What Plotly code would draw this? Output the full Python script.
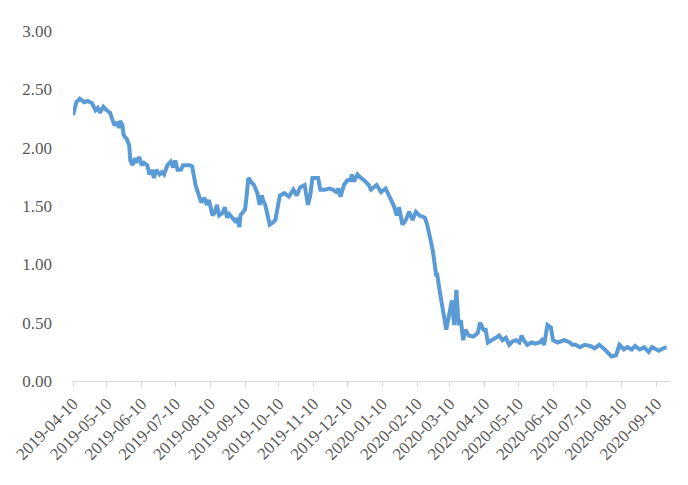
import plotly.graph_objects as go

dates = [
    "2019-04-10", "2019-04-13", "2019-04-16", "2019-04-20", "2019-04-23", "2019-04-27", "2019-04-30",
    "2019-05-02", "2019-05-04", "2019-05-07", "2019-05-10", "2019-05-13", "2019-05-15", "2019-05-17",
    "2019-05-19", "2019-05-21", "2019-05-22", "2019-05-24", "2019-05-25", "2019-05-28", "2019-05-30",
    "2019-05-31", "2019-06-02", "2019-06-04", "2019-06-05", "2019-06-08", "2019-06-10", "2019-06-12",
    "2019-06-15", "2019-06-17", "2019-06-19", "2019-06-21", "2019-06-23", "2019-06-26", "2019-06-28",
    "2019-06-30", "2019-07-03", "2019-07-06", "2019-07-08", "2019-07-10", "2019-07-12", "2019-07-15",
    "2019-07-17", "2019-07-23", "2019-07-25", "2019-07-28", "2019-07-31", "2019-08-02", "2019-08-05",
    "2019-08-07", "2019-08-09", "2019-08-12", "2019-08-14", "2019-08-16", "2019-08-18", "2019-08-21",
    "2019-08-23", "2019-08-25", "2019-08-27", "2019-08-30", "2019-09-02", "2019-09-03", "2019-09-05",
    "2019-09-06", "2019-09-10", "2019-09-11", "2019-09-13", "2019-09-16", "2019-09-18", "2019-09-21",
    "2019-09-23", "2019-09-25", "2019-09-26", "2019-09-28", "2019-10-02", "2019-10-05", "2019-10-07",
    "2019-10-11", "2019-10-15", "2019-10-19", "2019-10-23", "2019-10-26", "2019-10-29", "2019-11-02",
    "2019-11-05", "2019-11-07", "2019-11-09", "2019-11-14", "2019-11-16", "2019-11-20", "2019-11-24",
    "2019-11-27", "2019-11-30", "2019-12-02", "2019-12-04", "2019-12-07", "2019-12-10", "2019-12-13",
    "2019-12-14", "2019-12-16", "2019-12-19", "2019-12-22", "2019-12-25", "2019-12-29", "2019-12-31",
    "2020-01-05", "2020-01-07", "2020-01-09", "2020-01-13", "2020-01-16", "2020-01-20", "2020-01-23",
    "2020-01-25", "2020-01-28", "2020-01-31", "2020-02-03", "2020-02-06", "2020-02-09", "2020-02-12",
    "2020-02-17", "2020-02-19", "2020-02-22", "2020-02-24", "2020-02-27", "2020-02-28", "2020-03-01",
    "2020-03-04", "2020-03-06", "2020-03-07", "2020-03-10", "2020-03-12", "2020-03-14", "2020-03-16",
    "2020-03-18", "2020-03-20", "2020-03-22", "2020-03-24", "2020-03-27", "2020-03-31", "2020-04-04",
    "2020-04-06", "2020-04-09", "2020-04-11", "2020-04-13", "2020-04-17", "2020-04-20", "2020-04-23",
    "2020-04-26", "2020-04-29", "2020-05-02", "2020-05-05", "2020-05-08", "2020-05-11", "2020-05-13",
    "2020-05-15", "2020-05-18", "2020-05-22", "2020-05-25", "2020-05-29", "2020-05-31", "2020-06-02",
    "2020-06-05", "2020-06-08", "2020-06-10", "2020-06-14", "2020-06-20", "2020-06-25", "2020-06-27",
    "2020-06-30", "2020-07-04", "2020-07-08", "2020-07-13", "2020-07-17", "2020-07-21", "2020-07-26",
    "2020-07-28", "2020-08-01", "2020-08-05", "2020-08-08", "2020-08-12", "2020-08-15", "2020-08-19",
    "2020-08-22", "2020-08-26", "2020-08-30", "2020-09-03", "2020-09-06", "2020-09-10", "2020-09-12",
    "2020-09-16", "2020-09-19",
]

values = [
    2.28, 2.39, 2.42, 2.39, 2.40, 2.38, 2.32,
    2.34, 2.30, 2.35, 2.32, 2.30, 2.24, 2.19,
    2.22, 2.17, 2.23, 2.19, 2.11, 2.07, 2.02,
    1.89, 1.85, 1.91, 1.87, 1.92, 1.85, 1.87,
    1.85, 1.77, 1.81, 1.74, 1.81, 1.77, 1.79,
    1.77, 1.85, 1.88, 1.83, 1.89, 1.81, 1.81,
    1.85, 1.85, 1.84, 1.68, 1.59, 1.53, 1.57,
    1.51, 1.55, 1.42, 1.44, 1.51, 1.42, 1.44,
    1.49, 1.40, 1.43, 1.40, 1.36, 1.40, 1.32,
    1.42, 1.47, 1.55, 1.74, 1.70, 1.68, 1.61,
    1.51, 1.59, 1.55, 1.51, 1.34, 1.36, 1.38,
    1.59, 1.61, 1.58, 1.64, 1.59, 1.66, 1.68,
    1.51, 1.59, 1.74, 1.74, 1.64, 1.64, 1.65,
    1.64, 1.62, 1.65, 1.58, 1.68, 1.72, 1.72,
    1.77, 1.71, 1.77, 1.74, 1.72, 1.68, 1.64,
    1.68, 1.65, 1.62, 1.65, 1.59, 1.51, 1.42,
    1.49, 1.34, 1.38, 1.45, 1.38, 1.45, 1.42,
    1.40, 1.34, 1.21, 1.12, 0.91, 0.91, 0.78,
    0.61, 0.52, 0.44, 0.59, 0.69, 0.48, 0.78,
    0.48, 0.52, 0.35, 0.44, 0.39, 0.38, 0.41,
    0.50, 0.44, 0.44, 0.33, 0.35, 0.37, 0.39,
    0.35, 0.37, 0.31, 0.34, 0.35, 0.33, 0.39,
    0.35, 0.31, 0.33, 0.32, 0.33, 0.35, 0.31,
    0.48, 0.46, 0.35, 0.33, 0.35, 0.33, 0.31,
    0.31, 0.29, 0.31, 0.30, 0.28, 0.31, 0.27,
    0.25, 0.21, 0.22, 0.31, 0.27, 0.29, 0.27,
    0.30, 0.27, 0.29, 0.25, 0.29, 0.27, 0.26,
    0.28, 0.29,
]

tick_dates = [
    "2019-04-10", "2019-05-10", "2019-06-10", "2019-07-10", "2019-08-10", "2019-09-10",
    "2019-10-10", "2019-11-10", "2019-12-10", "2020-01-10", "2020-02-10", "2020-03-10",
    "2020-04-10", "2020-05-10", "2020-06-10", "2020-07-10", "2020-08-10", "2020-09-10",
]
y_ticks = [0, 0.5, 1.0, 1.5, 2.0, 2.5, 3.0]

fig = go.Figure()
fig.add_trace(go.Scatter(
    x=dates, y=values, mode="lines",
    line=dict(color="#5B9BD5", width=4),
    showlegend=False, hoverinfo="x+y",
))

fig.update_layout(
    width=680, height=477,
    margin=dict(l=65, r=18, t=23, b=104, autoexpand=False),
    paper_bgcolor="white", plot_bgcolor="white",
    font=dict(family="Liberation Serif, DejaVu Serif, serif", color="#595959"),
)
fig.update_xaxes(
    type="date",
    range=["2019-04-10", "2020-09-22"],
    tickvals=tick_dates,
    ticktext=tick_dates,
    tickangle=-45,
    tickfont=dict(size=17, color="#595959"),
    showgrid=False, zeroline=False,
    showline=True, linecolor="#D9D9D9", linewidth=1,
    ticks="outside", ticklen=5, tickcolor="#D9D9D9",
    automargin=False,
)
fig.update_yaxes(
    range=[0, 3.0],
    tickvals=y_ticks,
    ticktext=[f"{v:.2f}" for v in y_ticks],
    tickfont=dict(size=17, color="#595959"),
    showgrid=False, zeroline=False, showline=False,
    ticks="", ticklabelstandoff=20,
    automargin=False,
)

fig.write_html("out.html")
